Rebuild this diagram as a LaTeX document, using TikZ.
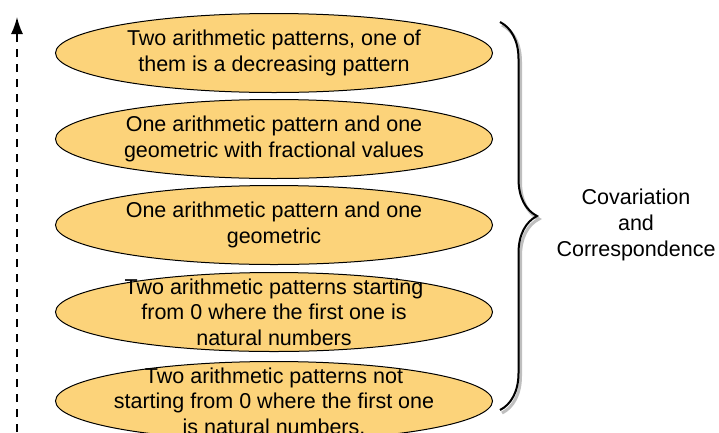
\documentclass[tikz,border=0pt]{standalone}
\usepackage{fontspec}
\setmainfont{Liberation Sans}
\usetikzlibrary{shapes.geometric}
\usetikzlibrary{decorations.pathreplacing}
\usetikzlibrary{arrows.meta}
\definecolor{patternfill}{RGB}{252,211,122}

\begin{document}
\begin{tikzpicture}[x = 1pt, y = -1pt]
				    \tikzstyle{level}=[draw,ellipse,line width = 1pt,fill=patternfill,minimum width = 437pt,minimum height = 79pt,inner xsep = -40pt,inner ysep = -12pt,align=center,font=\fontsize{21.5}{25.5}\selectfont]
				    \tikzstyle{axis}=[draw,line width = 1.6pt,dash pattern=on 8pt off 7pt,-{Latex[length=17pt,width=12pt]}]
				    \tikzstyle{bracket}=[draw,line width = 2pt,decorate,decoration={brace,amplitude=37pt}]
				    \useasboundingbox (0,0) rectangle (719,432);
				    \coordinate (axisbot) at (17,432);
				    \coordinate (axistop) at (17,17);
				    \draw[axis] (axisbot) -- (axistop);
				    \node[level] (p1) at (274,53) {Two arithmetic patterns, one of\\them is a decreasing pattern};
				    \node[level] (p2) at (274,139) {One arithmetic pattern and one\\geometric with fractional values};
				    \node[level] (p3) at (274,225) {One arithmetic pattern and one\\geometric};
				    \node[level] (p4) at (274,312) {Two arithmetic patterns starting\\from 0 where the first one is\\natural numbers};
				    \node[level] (p5) at (274,401) {Two arithmetic patterns not\\starting from 0 where the first one\\is natural numbers.};
				    \coordinate (bracetop) at (500,22);
				    \coordinate (bracebot) at (500,410);
				    \draw[bracket,black!25,line width = 3pt] ([shift={(2,3)}]bracetop) -- ([shift={(2,3)}]bracebot);
				    \draw[bracket] (bracetop) -- (bracebot);
				    \node[align=center,font=\fontsize{21.5}{26}\selectfont] (cc) at (636,225) {Covariation\\and\\Correspondence};
				\end{tikzpicture}
\end{document}
